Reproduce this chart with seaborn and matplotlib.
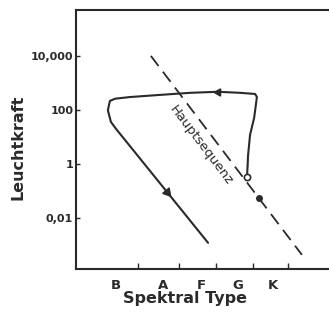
import numpy as np
import pandas as pd
import matplotlib
matplotlib.use("Agg")
import matplotlib.pyplot as plt
import seaborn as sns

# ---- data ----
spectral_labels = ["B", "A", "F", "G", "K"]
spectral_label_pos = [1.58, 3.44, 4.94, 6.40, 7.79]
spectral_tick_pos = [2.45, 4.07, 5.53, 6.99, 8.38]

lum_ticks = [1e4, 1e2, 1.0, 1e-2]
lum_tick_labels = ["10,000", "100", "1", "0,01"]

# evolutionary track (spectral index, luminosity)
track_x = [6.76, 6.80, 6.80, 6.88, 7.04, 7.11, 7.15, 7.08, 6.48, 5.61, 4.51,
           3.32, 2.13, 1.54, 1.34, 1.26, 1.26, 1.38, 1.58, 3.60, 5.22]
track_L = [0.33, 0.78, 3.3, 12.0, 50.0, 155.0, 300.0, 390.0, 430.0, 470.0, 430.0,
           360.0, 300.0, 260.0, 215.0, 130.0, 65.0, 36.0, 20.0, 0.091, 0.0012]

# main sequence (dashed line end points)
ms_x = [2.96, 8.93]
ms_L = [1e4, 4.3e-4]

start_x, start_L = 6.76, 0.33
ms_point_x, ms_point_L = 7.23, 0.055
arrow1_x, arrow1_L = 5.61, 470.0
arrow2_x, arrow2_L = 3.60, 0.091

sns.set_theme(style="white")
plt.rcParams["font.family"] = ["DejaVu Sans"]

fig = plt.figure(figsize=(3.29, 3.13), dpi=100)
ax = fig.add_axes([76 / 329, 1 - 269 / 313, 1 - 76 / 329, (269 - 10) / 313])

track = pd.DataFrame({"x": track_x, "L": track_L})
ms = pd.DataFrame({"x": ms_x, "L": ms_L})

ink = "#2a2a2a"
sns.lineplot(data=ms, x="x", y="L", ax=ax, color=ink, lw=1.3,
             linestyle=(0, (7, 4)), sort=False)
sns.lineplot(data=track, x="x", y="L", ax=ax, color=ink, lw=1.5, sort=False)

ax.plot([start_x], [start_L], marker="o", ms=4.5, mfc="white", mec=ink, mew=1.2)
ax.plot([ms_point_x], [ms_point_L], marker="o", ms=4, color=ink)
ax.plot([arrow1_x], [arrow1_L], marker=(3, 0, 90), ms=6, color=ink)
ax.plot([arrow2_x], [arrow2_L], marker=(3, 0, -140), ms=7, color=ink)

ax.text(4.94, 5.0, "Hauptsequenz", rotation=-52.8, rotation_mode="anchor",
        ha="center", va="center", fontsize=9.5, color=ink)

ax.set_yscale("log")
ax.set_xlim(0, 10)
ax.set_ylim(10 ** -3.89, 10 ** 5.70)

ax.set_yticks(lum_ticks)
ax.set_yticklabels(lum_tick_labels, fontsize=8, fontweight="bold", color=ink)
ax.yaxis.set_minor_locator(matplotlib.ticker.NullLocator())
ax.tick_params(axis="y", which="major", direction="in", length=3, width=1,
               pad=2, left=True, color=ink)

ax.set_xticks(spectral_label_pos)
ax.set_xticklabels(spectral_labels, fontsize=9.5, fontweight="bold", color=ink)
ax.tick_params(axis="x", which="major", length=0, pad=7)
ax.set_xticks(spectral_tick_pos, minor=True)
ax.tick_params(axis="x", which="minor", direction="in", length=4, width=1,
               bottom=True, color=ink)

ax.set_xlabel("")
ax.set_ylabel("")
for side in ["left", "bottom", "top"]:
    ax.spines[side].set_color(ink)
    ax.spines[side].set_linewidth(1.5)
ax.spines["right"].set_visible(False)

fig.text(185 / 329, 1 - 298 / 313, "Spektral Type", ha="center", va="center",
         fontsize=11.5, fontweight="bold", color=ink)
fig.text(18 / 329, 1 - 147 / 313, "Leuchtkraft", ha="center", va="center",
         rotation=90, fontsize=11.5, fontweight="bold", color=ink)

fig.savefig("out.png", dpi=100, facecolor="white")
